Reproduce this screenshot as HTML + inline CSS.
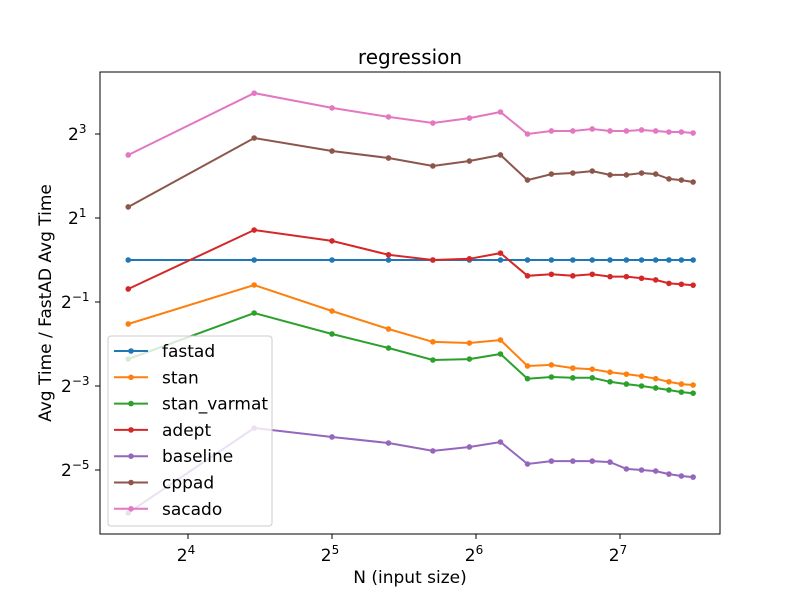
<!DOCTYPE html>
<html><head><meta charset="utf-8"><style>
body{margin:0;background:#fff;}
svg text{font-family:"DejaVu Sans","Liberation Sans",sans-serif;fill:#000;}
</style></head><body>
<svg id="chart" width="800" height="600" xmlns="http://www.w3.org/2000/svg">
<rect width="800" height="600" fill="#fff"/>
<g id="lines"></g>
<rect x="100" y="72" width="620" height="462" fill="none" stroke="#000" stroke-width="1"/>
<g id="ticks"></g>
<text x="410" y="64" font-size="20" text-anchor="middle">regression</text>
<text x="410" y="583" font-size="17" text-anchor="middle">N (input size)</text>
<text x="0" y="0" font-size="17" text-anchor="middle" transform="translate(51,303) rotate(-90)">Avg Time / FastAD Avg Time</text>
<g id="legend"></g>
</svg>
<script>
const sizes=[12,22,32,42,52,62,72,82,92,102,112,122,132,142,152,162,172,182];
const seriesNames=["fastad","stan","stan_varmat","adept","baseline","cppad","sacado"];
const seriesColors=["#1f77b4","#ff7f0e","#2ca02c","#d62728","#9467bd","#8c564b","#e377c2"];
const fastad=[1,1,1,1,1,1,1,1,1,1,1,1,1,1,1,1,1,1];
const stan=[0.348,0.662,0.431,0.320,0.259,0.254,0.267,0.174,0.177,0.168,0.165,0.157,0.152,0.147,0.141,0.134,0.129,0.127];
const stanVarmat=[0.195,0.417,0.295,0.234,0.192,0.195,0.212,0.141,0.145,0.143,0.143,0.134,0.129,0.125,0.121,0.117,0.113,0.111];
const adept=[0.62,1.64,1.37,1.09,1.0,1.02,1.12,0.77,0.79,0.77,0.79,0.76,0.76,0.74,0.72,0.68,0.67,0.66];
const baseline=[0.0154,0.0625,0.0539,0.0488,0.0428,0.0457,0.0496,0.0345,0.0362,0.0362,0.0362,0.0356,0.0318,0.03125,0.0307,0.0292,0.0283,0.0278];
const cppad=[2.40,7.49,6.04,5.38,4.72,5.12,5.66,3.74,4.13,4.20,4.34,4.07,4.07,4.20,4.13,3.81,3.74,3.62];
const sacado=[5.66,15.7,12.3,10.6,9.59,10.4,11.5,8.0,8.41,8.41,8.69,8.41,8.41,8.55,8.41,8.27,8.27,8.13];
const xTickExps=[4,5,6,7];
const yTickExps=[-5,-3,-1,1,3];
const allSeries=[fastad,stan,stanVarmat,adept,baseline,cppad,sacado];
const NS="http://www.w3.org/2000/svg";
function xs(n){return 188+144*(Math.log2(n)-4);}
function ys(v){return 260-42*Math.log2(v);}
function mk(tag,attrs,parent){const e=document.createElementNS(NS,tag);for(const k in attrs)e.setAttribute(k,attrs[k]);parent.appendChild(e);return e;}
const lines=document.getElementById('lines');
allSeries.forEach((s,i)=>{
  const g=mk('g',{},lines);
  
  
  const pts=s.map((v,j)=>xs(sizes[j]).toFixed(1)+','+ys(v).toFixed(1)).join(' ');
  const pl=mk('polyline',{points:pts,fill:'none',stroke:seriesColors[i],'stroke-width':2},g);
  
  
  s.forEach((v,j)=>{
    const c=mk('circle',{cx:xs(sizes[j]),cy:ys(v),r:2.8,fill:seriesColors[i]},g);
    
    
  });
});
const ticks=document.getElementById('ticks');
xTickExps.forEach(e=>{
  const x=xs(Math.pow(2,e));
  const t=mk('line',{x1:x,x2:x,y1:534,y2:539,stroke:'#000'},ticks);
  
  
  const tx=mk('text',{x:x-2,y:561,'font-size':17,'text-anchor':'middle'},ticks);
  
  
  tx.innerHTML='2<tspan dy="-7" font-size="12">'+e+'</tspan>';
});
yTickExps.forEach(e=>{
  const y=ys(Math.pow(2,e));
  const t=mk('line',{x1:95,x2:100,y1:y,y2:y,stroke:'#000'},ticks);
  
  
  const lbl=e<0?'\u2212'+(-e):''+e;
  const tx=mk('text',{x:e<0?61:68,y:y+6,'font-size':17,'text-anchor':'start'},ticks);
  
  
  tx.innerHTML='2<tspan dy="-7" font-size="12">'+lbl+'</tspan>';
});
const lg=document.getElementById('legend');
const box=mk('rect',{x:108,y:336,width:164,height:190,rx:3,fill:'#fff','fill-opacity':0.8,stroke:'#ccc'},lg);


seriesNames.forEach((n,i)=>{
  const y=351+26.3*i;
  const g=mk('g',{},lg);
  
  
  mk('line',{x1:114,x2:148,y1:y,y2:y,stroke:seriesColors[i],'stroke-width':2},g);
  mk('circle',{cx:131,cy:y,r:2.8,fill:seriesColors[i]},g);
  const t=mk('text',{x:162,y:y+6,'font-size':17},g);
  t.textContent=n;
});
</script>
</body></html>
